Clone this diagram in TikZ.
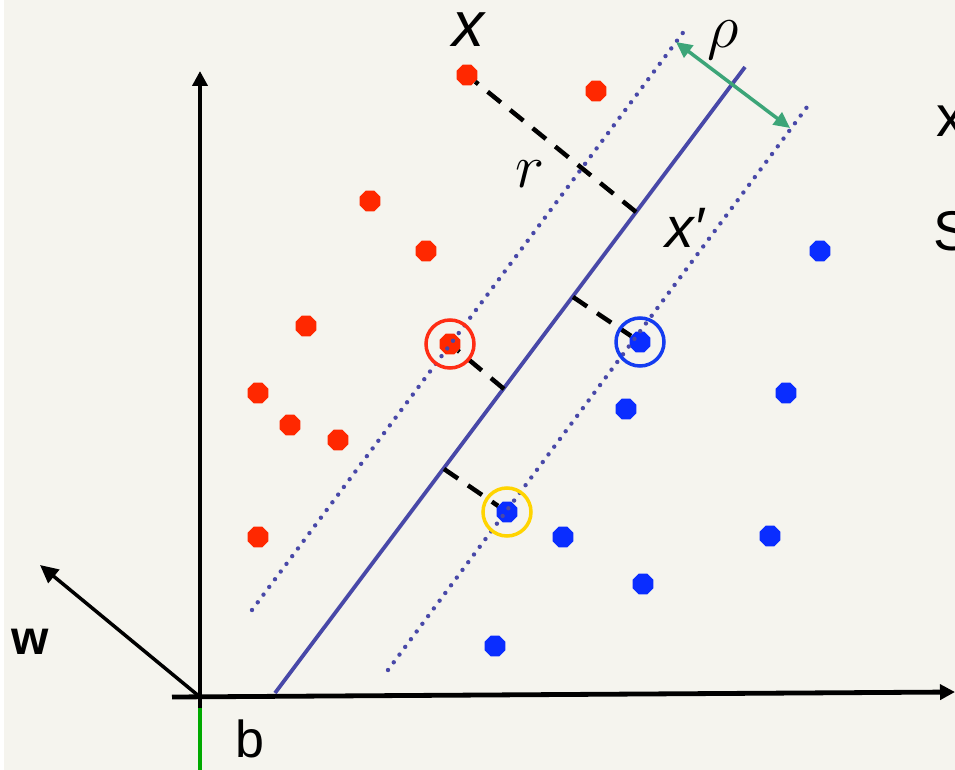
\documentclass[tikz,border=0pt]{standalone}
\usepackage{fix-cm}
\usepackage{fontspec}
\setmainfont{Liberation Serif}
\newfontfamily\lblfont{Liberation Sans}
\usepackage{tikz}
\usetikzlibrary{arrows.meta, positioning, calc, shapes.geometric}
\usepackage{xcolor}
\definecolor{paper}{RGB}{245,244,238}
\definecolor{ptred}{RGB}{255,40,0}
\definecolor{ptblue}{RGB}{10,45,255}
\definecolor{planeblue}{RGB}{72,72,168}
\definecolor{rhogreen}{RGB}{60,165,120}
\definecolor{axisgreen}{RGB}{0,170,0}
\definecolor{ringred}{RGB}{255,45,20}
\definecolor{ringblue}{RGB}{20,60,240}
\definecolor{ringgold}{RGB}{255,212,0}

\begin{document}
\begin{tikzpicture}[x=1pt, y=-1pt,
  dotpt/.style={regular polygon, regular polygon sides=8, inner sep=0pt, minimum size=22.5pt},
  marginline/.style={planeblue, line width=4.4pt, line cap=round, dash pattern=on 0pt off 9.6pt},
  distline/.style={black, line width=4.5pt, dash pattern=on 17pt off 12pt},
  ring/.style={circle, draw, line width=3.5pt, minimum size=48pt, inner sep=0pt},
  axisline/.style={black, line width=4.8pt},
  lbl/.style={inner sep=0pt, text=black}]
  \fill[paper] (0,0) rectangle (955,770);
  \fill[white] (0,0) rectangle (4,770);
  \useasboundingbox (0,0) rectangle (955,770);

  \coordinate (O) at (200,697);
  \coordinate (ytop) at (200,71);
  \coordinate (ybot) at (200,708);
  \coordinate (yend) at (200,770);
  \coordinate (xleft) at (172,697);
  \coordinate (xright) at (955,692);
  \coordinate (wtip) at (40,565);
  \coordinate (hpA) at (275,693);
  \coordinate (hpB) at (745,67);
  \coordinate (mlA) at (252,610);
  \coordinate (mlB) at (685,30);
  \coordinate (mrA) at (388,670);
  \coordinate (mrB) at (810,103);
  \coordinate (rhoA) at (676,42);
  \coordinate (rhoB) at (790,128);
  \coordinate (f1) at (636,212);
  \coordinate (f2) at (504,389);
  \coordinate (f3) at (573,297);
  \coordinate (f4) at (444,469);

  \draw[axisline, -{Triangle[length=15pt,width=15pt]}] (ybot) -- (ytop);
  \draw[axisgreen, line width=4.8pt] (ybot) -- (yend);
  \draw[axisline, -{Triangle[length=15pt,width=15pt]}] (xleft) -- (xright);
  \draw[black, line width=3.5pt, -{Triangle[length=18pt,width=17pt]}] (O) -- (wtip);

  \foreach \p/\n in {(467,75)/r1, (596,91)/r2, (370,201)/r3, (426,251)/r4, (306,326)/r5,
      (450,344)/r6, (258,393)/r7, (290,425)/r8, (338,440)/r9, (258,537)/r10}
    \node[dotpt, fill=ptred] (\n) at \p {};
  \foreach \p/\n in {(820,251)/b1, (640,342)/b2, (786,393)/b3, (626,409)/b4, (507,512)/b5,
      (563,537)/b6, (770,536)/b7, (643,584)/b8, (495,646)/b9}
    \node[dotpt, fill=ptblue] (\n) at \p {};

  \draw[planeblue, line width=3.8pt] (hpA) -- (hpB);
  \draw[distline] (f1) -- (r1);
  \draw[distline] (f2) -- (r6);
  \draw[distline] (f3) -- (b2);
  \draw[distline] (f4) -- (b5);
  \draw[marginline] (mlA) -- (mlB);
  \draw[marginline] (mrA) -- (mrB);
  \draw[rhogreen, line width=3.5pt, {Triangle[length=16pt,width=15pt]}-{Triangle[length=16pt,width=15pt]}] (rhoA) -- (rhoB);

  \node[ring, draw=ringred] (c1) at (r6) {};
  \node[ring, draw=ringblue] (c2) at (b2) {};
  \node[ring, draw=ringgold] (c3) at (b5) {};

  \node[lbl, anchor=base, font=\lblfont\itshape\fontsize{64}{64}\selectfont] (xlab) at (468,47) {x};
  \node[lbl, anchor=base west, font=\lblfont\itshape\fontsize{57}{57}\selectfont] (xplab) at (665,247) {x′};
  \node[lbl, anchor=base, font=\fontsize{62}{62}\selectfont] (rlab) at (530,187) {$r$};
  \node[lbl, font=\fontsize{62}{62}\selectfont] (rholab) at (723,40) {$\rho$};
  \node[lbl, font=\lblfont\bfseries\fontsize{48}{48}\selectfont] (wlab) at (30,642) {w};
  \node[lbl, anchor=base, font=\lblfont\fontsize{52}{52}\selectfont] (blab) at (250,757) {b};
  \node[lbl, anchor=base west, font=\lblfont\fontsize{58}{58}\selectfont] (xcut) at (936,137) {x};
  \node[lbl, anchor=base west, font=\lblfont\fontsize{56}{56}\selectfont] (scut) at (933,250) {S};
\end{tikzpicture}
\end{document}
